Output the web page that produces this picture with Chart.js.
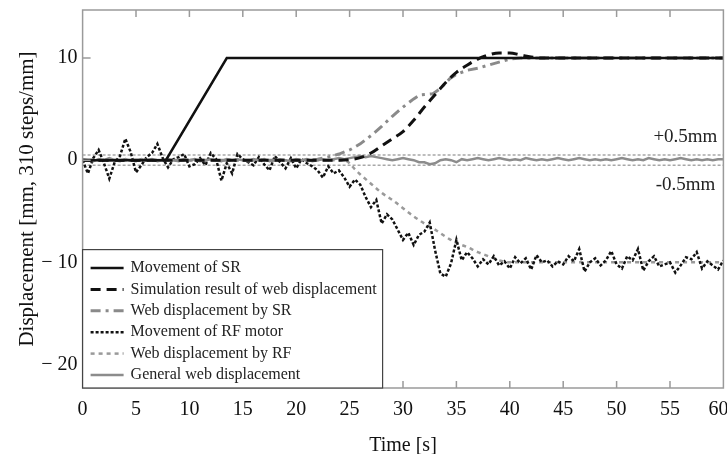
<!DOCTYPE html>
<html>
<head>
<meta charset="utf-8">
<script src="https://cdn.jsdelivr.net/npm/chart.js@4.4.1/dist/chart.umd.min.js"></script>
<style>
  html, body { margin: 0; padding: 0; background: #fff; }
</style>
</head>
<body>
<canvas id="chart" width="727" height="454"></canvas>
<script>
const serif = "'Liberation Serif', 'Times New Roman', serif";

// axis ticks
const xTicks = [0, 5, 10, 15, 20, 25, 30, 35, 40, 45, 50, 55, 60];
const yTicks = [-20, -10, 0, 10];
const yTickLabels = ['\u2212 20', '\u2212 10', '0', '10'];

const legendLabels = [
  'Movement of SR',
  'Simulation result of web displacement',
  'Web displacement by SR',
  'Movement of RF motor',
  'Web displacement by RF',
  'General web displacement',
];

// movement of SR
const tSR = [0, 7.8, 13.5, 60];
const ySR = [0, 0, 10, 10];

// simulation result
const tSim = [0, 24, 25, 26, 27, 28, 29, 30, 31, 32, 33, 34, 35, 36, 37, 38, 39, 40, 41, 42, 43, 60];
const ySim = [0, 0, 0.05, 0.25, 0.7, 1.4, 2.1, 2.8, 3.9, 5.2, 6.4, 7.6, 8.6, 9.3, 9.9, 10.3, 10.5, 10.5, 10.3, 10.1, 10.0, 10.0];

// web displacement by SR
const tWebSR = [0, 21, 22, 23, 24, 25, 26, 27, 28, 29, 30, 31, 31.6, 32.8, 33.5, 34.4, 35, 36, 37, 38, 39, 40, 41, 60];
const yWebSR = [0, 0, 0.1, 0.3, 0.6, 1.0, 1.6, 2.4, 3.3, 4.3, 5.2, 6.0, 6.4, 6.5, 7.0, 8.0, 8.4, 8.8, 9.0, 9.3, 9.6, 9.9, 10.0, 10.0];

// web displacement by RF
const tWebRF = [0, 24.5, 25, 25.5, 26, 27, 28, 29, 30, 31, 32, 33, 34, 35, 36, 37, 38, 39, 40, 60];
const yWebRF = [0, 0, -0.3, -0.9, -1.4, -2.3, -3.2, -3.9, -4.7, -5.5, -6.2, -6.8, -7.5, -8.1, -8.5, -9.0, -9.4, -9.8, -10.0, -10.0];

// measured signals, sampled every 0.5 s
const tNoise = [
  0, 0.5, 1, 1.5, 2, 2.5, 3, 3.5, 4, 4.5,
  5, 5.5, 6, 6.5, 7, 7.5, 8, 8.5, 9, 9.5,
  10, 10.5, 11, 11.5, 12, 12.5, 13, 13.5, 14, 14.5,
  15, 15.5, 16, 16.5, 17, 17.5, 18, 18.5, 19, 19.5,
  20, 20.5, 21, 21.5, 22, 22.5, 23, 23.5, 24, 24.5,
  25, 25.5, 26, 26.5, 27, 27.5, 28, 28.5, 29, 29.5,
  30, 30.5, 31, 31.5, 32, 32.5, 33, 33.5, 34, 34.5,
  35, 35.5, 36, 36.5, 37, 37.5, 38, 38.5, 39, 39.5,
  40, 40.5, 41, 41.5, 42, 42.5, 43, 43.5, 44, 44.5,
  45, 45.5, 46, 46.5, 47, 47.5, 48, 48.5, 49, 49.5,
  50, 50.5, 51, 51.5, 52, 52.5, 53, 53.5, 54, 54.5,
  55, 55.5, 56, 56.5, 57, 57.5, 58, 58.5, 59, 59.5,
  60
];
const yRFMotor = [
  0.0, -1.3, 0.2, 1.0, -0.3, -1.8, -0.2, 0.4, 2.1, 0.8,
  -1.2, -0.5, 0.3, 0.7, 1.6, 0.2, -0.7, 0.1, 0.3, 0.6,
  -0.6, -0.4, 0.2, -0.5, 0.7, 0.1, -2.0, -0.3, -1.3, 0.6,
  0.1, -0.2, -0.5, 0.3, -0.4, -1.0, 0.4, -0.2, -0.8, 0.2,
  -0.8, 0.1, -0.3, -0.6, -1.0, -1.7, -0.6, -1.3, -1.0, -1.7,
  -2.6, -1.9, -2.4, -3.6, -4.6, -3.9, -6.2, -5.3, -5.8, -6.8,
  -7.8, -7.1, -8.3, -7.3, -7.0, -6.1, -8.8, -11.1, -11.4, -10.1,
  -7.8, -9.8, -9.0, -9.6, -10.4, -9.7, -10.2, -9.4, -10.3, -9.9,
  -10.6, -9.5, -10.1, -9.6, -10.7, -9.3, -10.0, -9.8, -10.4, -9.9,
  -10.2, -9.4, -9.9, -8.7, -10.9, -10.0, -9.6, -10.3, -9.8, -8.9,
  -10.2, -10.6, -9.4, -9.8, -8.7, -10.8, -9.9, -9.4, -10.4, -10.2,
  -10.0, -11.0, -10.3, -9.5, -9.7, -9.0, -10.6, -9.9, -10.3, -10.7,
  -9.8
];
const yGeneral = [
  0.1, 0.0, -0.1, 0.1, 0.0, 0.2, 0.0, -0.1, 0.1, 0.0,
  -0.1, 0.1, 0.0, 0.1, -0.1, 0.0, 0.1, 0.0, -0.1, 0.1,
  0.0, 0.1, -0.1, 0.0, 0.1, 0.0, -0.1, 0.1, 0.0, 0.1,
  0.0, -0.1, 0.1, 0.0, 0.1, -0.1, 0.0, 0.1, 0.0, -0.1,
  0.1, 0.0, 0.1, -0.1, 0.0, 0.1, 0.0, 0.1, 0.2, 0.1,
  0.2, 0.3, 0.4, 0.3, 0.4, 0.3, 0.2, 0.1, 0.0, 0.1,
  0.2, 0.1, 0.0, -0.2, -0.2, -0.4, -0.3, 0.0, 0.1, 0.0,
  -0.2, 0.1, 0.0, 0.1, 0.2, 0.1, 0.0, 0.1, 0.2, 0.1,
  0.0, 0.1, 0.0, 0.2, 0.1, 0.0, 0.1, 0.0, 0.1, 0.2,
  0.1, 0.0, 0.1, 0.2, 0.1, 0.0, 0.1, 0.0, 0.1, 0.0,
  0.1, 0.2, 0.1, 0.0, 0.1, 0.0, 0.2, 0.1, 0.0, 0.1,
  0.0, 0.1, 0.2, 0.1, 0.0, 0.1, 0.0, 0.1, 0.0, 0.1,
  0.1
];

// +-0.5mm tolerance band
const tBand = [0, 60];
const bandUpper = [0.5, 0.5];
const bandLower = [-0.5, -0.5];

function pts(xs, ys) {
  return xs.map((x, i) => ({ x: x, y: ys[i] }));
}

// frame, inward ticks, band labels, legend box
const decorPlugin = {
  id: 'decor',
  afterDatasetsDraw(chart) {
    const c = chart.ctx, a = chart.chartArea;
    const xs = chart.scales.x, ys = chart.scales.y;
    c.save();

    c.strokeStyle = '#9a9a9a';
    c.lineWidth = 1.5;
    c.strokeRect(a.left, a.top, a.right - a.left, a.bottom - a.top);
    c.beginPath();
    xTicks.slice(1, -1).forEach(v => {
      const px = xs.getPixelForValue(v);
      c.moveTo(px, a.top); c.lineTo(px, a.top + 7);
      c.moveTo(px, a.bottom); c.lineTo(px, a.bottom - 7);
    });
    yTicks.forEach(v => {
      const py = ys.getPixelForValue(v);
      c.moveTo(a.left, py); c.lineTo(a.left + 8, py);
    });
    c.stroke();

    c.fillStyle = '#222';
    c.font = '19px ' + serif;
    c.textAlign = 'right';
    c.textBaseline = 'middle';
    c.fillText('+0.5mm', a.right - 6, ys.getPixelForValue(0.5) - 18);
    c.fillText('-0.5mm', a.right - 8, ys.getPixelForValue(-0.5) + 20);

    // legend
    const rowH = 21.4;
    const left = a.left, right = a.left + 300, bottom = a.bottom;
    const top = bottom - legendLabels.length * rowH - 10;
    c.fillStyle = '#fff';
    c.fillRect(left, top, right - left, bottom - top);
    c.strokeStyle = '#444';
    c.lineWidth = 1.2;
    c.strokeRect(left, top, right - left, bottom - top);
    c.font = '16px ' + serif;
    c.textAlign = 'left';
    legendLabels.forEach((lab, i) => {
      const ds = chart.data.datasets[i];
      const y = top + 18.4 + i * rowH;
      c.beginPath();
      c.setLineDash(ds.borderDash || []);
      c.strokeStyle = ds.borderColor;
      c.lineWidth = ds.borderWidth;
      c.moveTo(left + 8, y); c.lineTo(left + 41, y);
      c.stroke();
      c.setLineDash([]);
      c.fillStyle = '#222';
      c.fillText(lab, left + 48, y);
    });
    c.restore();
  }
};

new Chart(document.querySelector('#chart'), {
  type: 'line',
  data: {
    datasets: [
      { label: legendLabels[0], data: pts(tSR, ySR), borderColor: '#111', borderWidth: 2.5, order: 0 },
      { label: legendLabels[1], data: pts(tSim, ySim), borderColor: '#111', borderWidth: 3, borderDash: [10, 6], cubicInterpolationMode: 'monotone', order: 1 },
      { label: legendLabels[2], data: pts(tWebSR, yWebSR), borderColor: '#8a8a8a', borderWidth: 3, borderDash: [10, 5, 3, 5], order: 2 },
      { label: legendLabels[3], data: pts(tNoise, yRFMotor), borderColor: '#111', borderWidth: 2.5, borderDash: [3, 2], order: 4 },
      { label: legendLabels[4], data: pts(tWebRF, yWebRF), borderColor: '#9a9a9a', borderWidth: 2.5, borderDash: [4, 4], cubicInterpolationMode: 'monotone', order: 5 },
      { label: legendLabels[5], data: pts(tNoise, yGeneral), borderColor: '#8c8c8c', borderWidth: 2.5, order: 3 },
      { label: 'upper', data: pts(tBand, bandUpper), borderColor: '#a8a8a8', borderWidth: 1.5, borderDash: [3, 2], order: 6 },
      { label: 'lower', data: pts(tBand, bandLower), borderColor: '#a8a8a8', borderWidth: 1.5, borderDash: [3, 2], order: 6 },
    ],
  },
  options: {
    responsive: false,
    animation: false,
    elements: { point: { radius: 0 }, line: { fill: false, tension: 0 } },
    layout: { padding: { top: 10, right: 3.6, left: 0, bottom: 0 } },
    plugins: { legend: { display: false }, tooltip: { enabled: false } },
    scales: {
      x: {
        type: 'linear',
        min: 0,
        max: 60,
        afterBuildTicks: s => { s.ticks = xTicks.map(v => ({ value: v })); },
        afterFit: s => { s.height = 66; s.paddingLeft = 0; s.paddingRight = 0; },
        grid: { display: false, drawTicks: false },
        border: { display: false },
        ticks: {
          font: { family: serif, size: 20 },
          color: '#111',
          padding: 10,
          maxRotation: 0,
          autoSkip: false,
          // last label sits against the canvas edge
          callback: v => (v === 60 ? '60\u2002' : String(v)),
        },
        title: { display: true, text: 'Time [s]', font: { family: serif, size: 20, lineHeight: 0.8 }, color: '#111', padding: 0 },
      },
      y: {
        min: -22.3,
        max: 14.7,
        afterBuildTicks: s => { s.ticks = yTicks.map(v => ({ value: v })); },
        afterFit: s => { s.width = 82.6; s.paddingTop = 0; s.paddingBottom = 0; },
        grid: { display: false, drawTicks: false },
        border: { display: false },
        ticks: {
          font: { family: serif, size: 20 },
          color: '#111',
          padding: 5,
          callback: v => yTickLabels[yTicks.indexOf(v)],
        },
        title: { display: true, text: 'Displacement [mm, 310 steps/mm]', font: { family: serif, size: 21 }, color: '#111', padding: { top: 15, bottom: 0 } },
      },
    },
  },
  plugins: [decorPlugin],
});
</script>
</body>
</html>
